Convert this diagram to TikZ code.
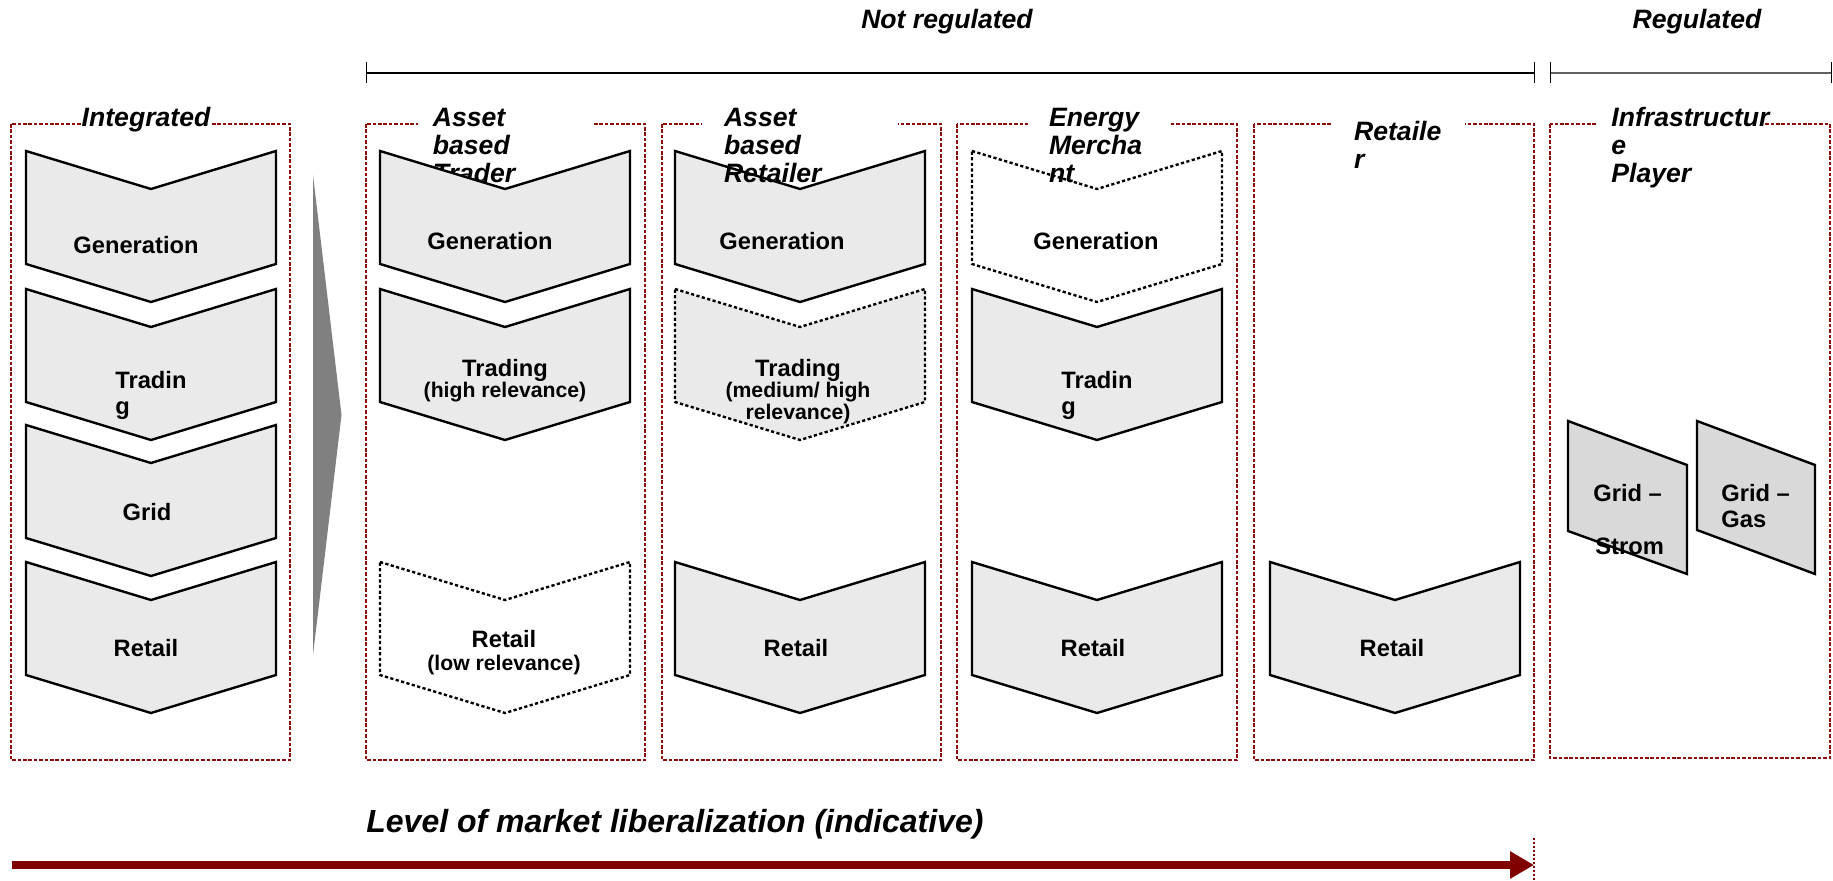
\documentclass[tikz,border=0pt]{standalone}
\usepackage{fontspec}
\setmainfont{Liberation Sans}
\usetikzlibrary{arrows.meta}

\definecolor{frame}{RGB}{140,12,12}
\definecolor{arrowred}{RGB}{128,0,0}
\definecolor{chevfill}{RGB}{234,234,234}
\definecolor{gridfill}{RGB}{217,217,217}
\definecolor{wedge}{RGB}{128,128,128}

\tikzset{
  pics/chevron/.style={code={
    \path[pic actions] (0,0) -- (125,38) -- (250,0) -- (250,113) -- (125,151) -- (0,113) -- cycle;}},
  solidchev/.style={draw=black, line width=1.2pt, fill=chevfill},
  dashchev/.style={draw=black, line width=1.2pt, dash pattern=on 1.6pt off 1.2pt},
  groupframe/.style={draw=frame, line width=1.3pt, dash pattern=on 1.8pt off 0.9pt},
  gridbox/.style={draw=black, line width=1.2pt, fill=gridfill},
  title/.style={font=\fontsize{13.3}{14}\selectfont\bfseries\itshape, inner sep=0pt, anchor=base west},
  lbl/.style={font=\fontsize{11.85}{13}\selectfont\bfseries, inner sep=0pt, anchor=base},
  sublbl/.style={font=\fontsize{10.6}{12}\selectfont\bfseries, inner sep=0pt, anchor=base},
  bracket/.style={line width=1.4pt},
  tick/.style={line width=0.5pt},
}

\begin{document}
\begin{tikzpicture}[x=0.5pt, y=-0.5pt]
\useasboundingbox (0,0) rectangle (1833,881);

% group frames
\draw[groupframe] (11,124) rectangle (290,760);
\draw[groupframe] (366,124) rectangle (645,760);
\draw[groupframe] (662,124) rectangle (941,760);
\draw[groupframe] (957,124) rectangle (1237,760);
\draw[groupframe] (1254,124) rectangle (1534,760);
\draw[groupframe] (1550,124) rectangle (1830,758);

% openings in the frames for the titles
\fill[white] (418,112) rectangle (594,134);
\fill[white] (702,112) rectangle (898,134);
\fill[white] (1028,112) rectangle (1170,134);
\fill[white] (1333,112) rectangle (1465,134);
\fill[white] (1596,112) rectangle (1763,134);

% titles
\node[title, anchor=base, fill=white] (t1) at (146,127) {Integrated};
\node[title] (t2a) at (432.5,127) {Asset};
\node[title] (t2b) at (432.5,155) {based};
\node[title] (t2c) at (432.5,183) {Trader};

% liberalization wedge
\fill[wedge] (313,175) -- (341.5,415) -- (313,655) -- cycle;

% integrated chain
\pic[solidchev] at (26,151) {chevron};
\pic[solidchev] at (26,289) {chevron};
\pic[solidchev] at (26,425) {chevron};
\pic[solidchev] at (26,562) {chevron};

% asset based trader
\pic[solidchev] at (380,151) {chevron};
\pic[solidchev] at (380,289) {chevron};
\pic[dashchev, fill=white] at (380,562) {chevron};

% asset based retailer
\pic[solidchev] at (675,151) {chevron};
\pic[dashchev, fill=chevfill] at (675,289) {chevron};
\pic[solidchev] at (675,562) {chevron};

% energy merchant
\pic[dashchev, fill=white] at (972,151) {chevron};
\pic[solidchev] at (972,289) {chevron};
\pic[solidchev] at (972,562) {chevron};

% retailer
\pic[solidchev] at (1270,562) {chevron};

% infrastructure grids
\draw[gridbox] (1568,421) -- (1687,465) -- (1687,574) -- (1568,531) -- cycle;
\draw[gridbox] (1697,421) -- (1815,465) -- (1815,574) -- (1697,530) -- cycle;

% remaining titles
\node[title] (t3a) at (723.6,127) {Asset};
\node[title] (t3b) at (723.6,155) {based};
\node[title] (t3c) at (723.6,183) {Retailer};
\node[title] (t4a) at (1048.6,127) {Energy};
\node[title] (t4b) at (1048.6,155) {Mercha};
\node[title] (t4c) at (1048.6,183) {nt};
\node[title] (t5a) at (1353.7,141) {Retaile};
\node[title] (t5b) at (1353.7,169) {r};
\node[title] (t6a) at (1611,127) {Infrastructur};
\node[title] (t6b) at (1611,155) {e};
\node[title] (t6c) at (1611,183) {Player};

% chain labels
\node[lbl] (gen1) at (136,253.5) {Generation};
\node[lbl, anchor=base west] (trd1a) at (115,389) {Tradin};
\node[lbl, anchor=base west] (trd1b) at (115,415) {g};
\node[lbl] (grid1) at (147,520.5) {Grid};
\node[lbl] (ret1) at (146,657) {Retail};

\node[lbl] (gen2) at (490,250) {Generation};
\node[lbl] (trd2) at (505,376.5) {Trading};
\node[sublbl] (trd2s) at (505,398) {(high relevance)};
\node[lbl] (ret2) at (504,647.5) {Retail};
\node[sublbl] (ret2s) at (504,670.5) {(low relevance)};

\node[lbl] (gen3) at (782,250) {Generation};
\node[lbl] (trd3) at (798,376.5) {Trading};
\node[sublbl] (trd3s) at (798,398) {(medium/ high};
\node[sublbl] (trd3t) at (798,420) {relevance)};
\node[lbl] (ret3) at (796,657) {Retail};

\node[lbl] (gen4) at (1096,250) {Generation};
\node[lbl, anchor=base west] (trd4a) at (1061,389) {Tradin};
\node[lbl, anchor=base west] (trd4b) at (1061,415) {g};
\node[lbl] (ret4) at (1093,657) {Retail};

\node[lbl] (ret5) at (1392,657) {Retail};

\node[lbl, anchor=base west] (gs1) at (1593,501.5) {Grid –};
\node[lbl, anchor=base west] (gs2) at (1595,555) {Strom};
\node[lbl, anchor=base west] (gg1) at (1721,501.5) {Grid –};
\node[lbl, anchor=base west] (gg2) at (1721,527.5) {Gas};

% regulation brackets
\node[title, anchor=base] (nreg) at (947,29) {Not regulated};
\node[title, anchor=base] (reg) at (1697,29) {Regulated};
\coordinate (nrL) at (366,73);
\coordinate (nrR) at (1534,73);
\coordinate (rgL) at (1550,73);
\coordinate (rgR) at (1831,73);
\draw[bracket] (nrL) -- (nrR);
\draw[tick] (366,62) -- (366,83);
\draw[tick] (1534,62) -- (1534,83);
\draw[bracket, draw=gray!75!black] (rgL) -- (rgR);
\draw[tick] (1550,62) -- (1550,83);
\draw[tick] (1831,62) -- (1831,83);

% liberalization axis
\node[font=\fontsize{16}{18}\selectfont\bfseries\itshape, anchor=base west, inner sep=0pt] (lvl) at (366,833) {Level of market liberalization (indicative)};
\coordinate (arrS) at (12,865);
\coordinate (arrE) at (1534,865);
\draw[arrowred, line width=4pt, -{Triangle[length=12pt,width=13pt]}] (arrS) -- (arrE);
\coordinate (mkT) at (1534,838);
\coordinate (mkB) at (1534,881);
\draw[arrowred, line width=0.8pt, dash pattern=on 1pt off 1pt] (mkT) -- (mkB);
\end{tikzpicture}
\end{document}
